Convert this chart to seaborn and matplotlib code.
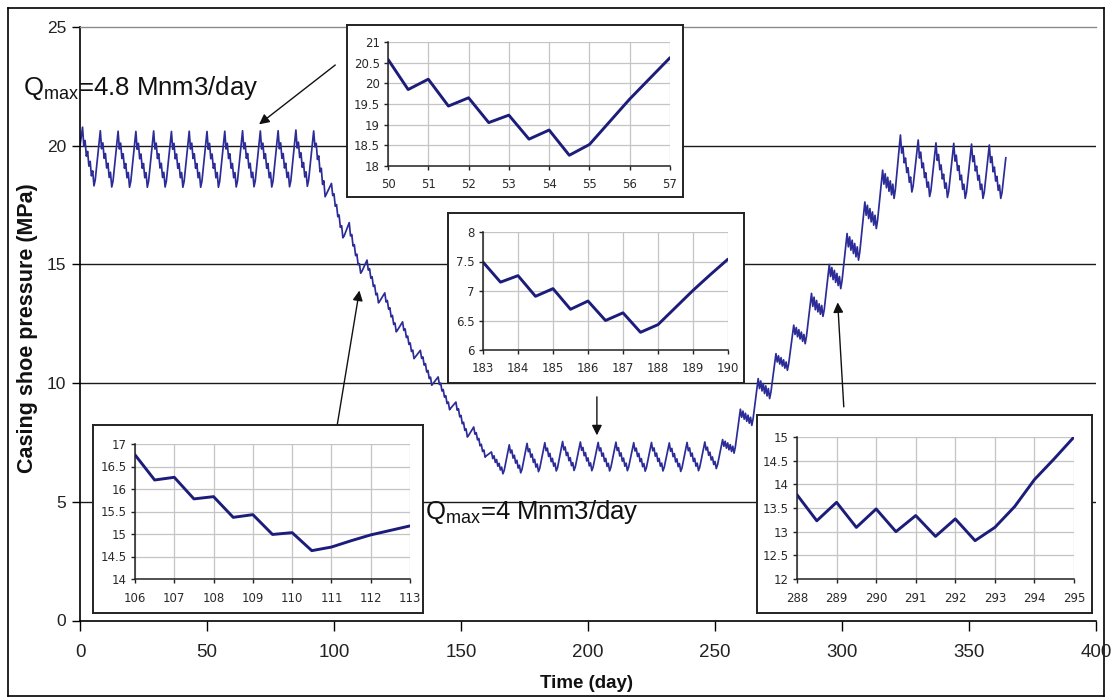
import matplotlib
matplotlib.use("Agg")
import matplotlib.pyplot as plt
import numpy as np
import pandas as pd
import seaborn as sns

# ---------------------------------------------------------------------------
# Casing shoe pressure over one year of storage operation.
# Each weekly row gives the pressure (MPa) at half-day steps from the start of
# the week (offsets 0 ... 5 days); the weekend injection then runs up to the
# first value of the following week.
# ---------------------------------------------------------------------------
cycle_offsets = [0.0, 0.5, 1.0, 1.5, 2.0, 2.5, 3.0, 3.5, 4.0, 4.5, 5.0]

start_day = 0.0
start_pressure = 20.0

high_plateau_weeks = [1, 8, 15, 22, 29, 36, 43, 50, 57, 64, 71, 78, 85]
high_plateau = [
    [20.78, 19.98, 20.22, 19.56, 19.76, 19.14, 19.34, 18.73, 18.94, 18.31, 18.56],
    [20.63, 19.87, 20.12, 19.47, 19.67, 19.06, 19.26, 18.66, 18.88, 18.26, 18.51],
    [20.61, 19.86, 20.11, 19.46, 19.66, 19.05, 19.25, 18.65, 18.87, 18.25, 18.50],
    [20.60, 19.85, 20.10, 19.45, 19.65, 19.05, 19.25, 18.65, 18.87, 18.25, 18.50],
    [20.62, 19.86, 20.11, 19.46, 19.66, 19.06, 19.26, 18.66, 18.88, 18.26, 18.51],
    [20.60, 19.85, 20.10, 19.45, 19.65, 19.05, 19.25, 18.65, 18.87, 18.25, 18.50],
    [20.61, 19.86, 20.11, 19.46, 19.66, 19.05, 19.25, 18.65, 18.87, 18.25, 18.50],
    [20.60, 19.85, 20.10, 19.45, 19.65, 19.05, 19.25, 18.65, 18.87, 18.25, 18.50],
    [20.61, 19.86, 20.10, 19.46, 19.66, 19.05, 19.25, 18.65, 18.87, 18.26, 18.51],
    [20.63, 19.87, 20.12, 19.47, 19.67, 19.06, 19.26, 18.66, 18.88, 18.27, 18.52],
    [20.62, 19.86, 20.11, 19.46, 19.66, 19.05, 19.25, 18.65, 18.87, 18.26, 18.51],
    [20.63, 19.87, 20.12, 19.47, 19.67, 19.06, 19.26, 18.66, 18.88, 18.27, 18.52],
    [20.66, 19.90, 20.15, 19.50, 19.70, 19.09, 19.29, 18.68, 18.90, 18.29, 18.54],
]

drawdown_weeks = [92, 99, 106, 113, 120, 127, 134, 141, 148, 155, 162]
drawdown = [
    [20.62, 19.95, 20.10, 19.42, 19.57, 18.90, 19.05, 18.37, 18.52, 17.85, 17.96],
    [18.41, 17.90, 17.97, 17.45, 17.52, 17.01, 17.08, 16.56, 16.63, 16.12, 16.20],
    [16.76, 16.20, 16.26, 15.78, 15.83, 15.37, 15.43, 14.99, 15.03, 14.63, 14.71],
    [15.18, 14.76, 14.82, 14.42, 14.48, 14.07, 14.13, 13.72, 13.78, 13.38, 13.45],
    [13.80, 13.42, 13.48, 13.11, 13.17, 12.79, 12.85, 12.47, 12.53, 12.16, 12.23],
    [12.58, 12.22, 12.28, 11.92, 11.98, 11.63, 11.69, 11.33, 11.39, 11.03, 11.10],
    [11.38, 11.04, 11.10, 10.76, 10.82, 10.47, 10.53, 10.19, 10.25, 9.91, 9.98],
    [10.26, 9.94, 10.00, 9.67, 9.73, 9.41, 9.47, 9.14, 9.20, 8.88, 8.95],
    [9.20, 8.86, 8.92, 8.58, 8.64, 8.29, 8.35, 8.01, 8.07, 7.73, 7.80],
    [8.15, 7.85, 7.91, 7.61, 7.67, 7.36, 7.42, 7.12, 7.18, 6.88, 6.94],
    [7.10, 6.82, 6.94, 6.66, 6.78, 6.50, 6.62, 6.34, 6.46, 6.18, 6.32],
]

low_plateau_weeks = [169, 176, 183, 190, 197, 204, 211, 218, 225, 232, 239, 246]
low_plateau = [
    [7.40, 7.06, 7.18, 6.84, 6.96, 6.63, 6.75, 6.42, 6.54, 6.22, 6.36],
    [7.46, 7.11, 7.23, 6.88, 7.01, 6.66, 6.79, 6.46, 6.59, 6.27, 6.41],
    [7.49, 7.15, 7.26, 6.91, 7.04, 6.69, 6.83, 6.50, 6.63, 6.30, 6.43],
    [7.54, 7.19, 7.31, 6.95, 7.08, 6.73, 6.86, 6.52, 6.65, 6.32, 6.47],
    [7.52, 7.17, 7.29, 6.94, 7.07, 6.72, 6.85, 6.51, 6.64, 6.31, 6.46],
    [7.50, 7.15, 7.27, 6.92, 7.05, 6.70, 6.83, 6.49, 6.62, 6.30, 6.45],
    [7.51, 7.16, 7.28, 6.93, 7.06, 6.71, 6.84, 6.50, 6.63, 6.31, 6.46],
    [7.49, 7.14, 7.26, 6.91, 7.04, 6.69, 6.82, 6.48, 6.61, 6.29, 6.44],
    [7.50, 7.15, 7.27, 6.92, 7.05, 6.70, 6.83, 6.50, 6.63, 6.30, 6.45],
    [7.48, 7.13, 7.25, 6.90, 7.03, 6.68, 6.81, 6.48, 6.61, 6.28, 6.43],
    [7.50, 7.15, 7.27, 6.92, 7.05, 6.70, 6.83, 6.50, 6.63, 6.31, 6.46],
    [7.52, 7.18, 7.30, 6.96, 7.09, 6.76, 6.89, 6.57, 6.70, 6.40, 6.56],
]

buildup_weeks = [253, 260, 267, 274, 281, 288, 295, 302, 309, 316]
buildup = [
    [7.62, 7.34, 7.55, 7.26, 7.48, 7.19, 7.41, 7.12, 7.34, 7.05, 7.31],
    [8.90, 8.56, 8.82, 8.48, 8.73, 8.39, 8.65, 8.31, 8.56, 8.22, 8.50],
    [10.19, 9.77, 10.09, 9.67, 9.98, 9.56, 9.88, 9.46, 9.77, 9.35, 9.61],
    [11.24, 10.89, 11.15, 10.80, 11.07, 10.72, 10.98, 10.63, 10.89, 10.54, 10.81],
    [12.44, 12.05, 12.34, 11.95, 12.25, 11.86, 12.15, 11.76, 12.05, 11.66, 11.96],
    [13.78, 13.23, 13.62, 13.09, 13.48, 13.00, 13.34, 12.90, 13.27, 12.81, 13.09],
    [15.00, 14.49, 14.87, 14.36, 14.75, 14.24, 14.62, 14.11, 14.49, 13.98, 14.30],
    [16.30, 15.74, 16.16, 15.60, 16.02, 15.46, 15.88, 15.32, 15.74, 15.18, 15.52],
    [17.63, 17.07, 17.49, 16.93, 17.35, 16.79, 17.21, 16.65, 17.07, 16.51, 16.85],
    [18.97, 18.38, 18.82, 18.23, 18.67, 18.08, 18.52, 17.93, 18.38, 17.78, 18.15],
]

final_plateau_weeks = [323, 330, 337, 344, 351, 358]
final_plateau = [
    [20.45, 19.69, 19.94, 19.28, 19.48, 18.87, 19.07, 18.46, 18.68, 18.05, 18.30],
    [20.24, 19.48, 19.73, 19.07, 19.27, 18.66, 18.86, 18.25, 18.47, 17.86, 18.11],
    [20.12, 19.38, 19.63, 18.99, 19.19, 18.60, 18.80, 18.21, 18.43, 17.82, 18.07],
    [20.10, 19.35, 19.60, 18.96, 19.16, 18.56, 18.76, 18.16, 18.38, 17.78, 18.03],
    [20.07, 19.33, 19.58, 18.94, 19.14, 18.55, 18.75, 18.16, 18.38, 17.78, 18.03],
    [20.03, 19.29, 19.54, 18.90, 19.10, 18.51, 18.71, 18.12, 18.34, 17.78, 18.03],
]

end_day = 364.5
end_pressure = 19.5

# Detail windows (half-day resolution)
detail_a_days = [50, 50.5, 51, 51.5, 52, 52.5, 53, 53.5, 54, 54.5, 55, 55.5, 56, 56.5, 57]
detail_a_pressure = [20.58, 19.85, 20.10, 19.45, 19.65, 19.05, 19.23, 18.65, 18.87,
                     18.26, 18.52, 19.07, 19.62, 20.12, 20.62]

detail_b_days = [183, 183.5, 184, 184.5, 185, 185.5, 186, 186.5, 187, 187.5, 188,
                 188.5, 189, 189.5, 190]
detail_b_pressure = [7.49, 7.15, 7.26, 6.91, 7.04, 6.69, 6.83, 6.50, 6.63, 6.30, 6.43,
                     6.72, 7.01, 7.28, 7.54]

detail_c_days = [106, 106.5, 107, 107.5, 108, 108.5, 109, 109.5, 110, 110.5, 111,
                 111.5, 112, 112.5, 113]
detail_c_pressure = [16.76, 16.20, 16.26, 15.78, 15.83, 15.37, 15.43, 14.99, 15.03,
                     14.63, 14.71, 14.85, 14.98, 15.08, 15.18]

detail_d_days = [288, 288.5, 289, 289.5, 290, 290.5, 291, 291.5, 292, 292.5, 293,
                 293.5, 294, 294.5, 295]
detail_d_pressure = [13.78, 13.23, 13.62, 13.09, 13.48, 13.00, 13.34, 12.90, 13.27,
                     12.81, 13.09, 13.53, 14.10, 14.54, 15.00]

main_xticks = [0, 50, 100, 150, 200, 250, 300, 350, 400]
main_yticks = [0, 5, 10, 15, 20, 25]

# ---------------------------------------------------------------------------
sns.set_theme(style="white")
plt.rcParams["font.family"] = ["Liberation Sans", "DejaVu Sans"]
plt.rcParams["mathtext.fontset"] = "custom"
plt.rcParams["mathtext.rm"] = "Liberation Sans"
plt.rcParams["mathtext.it"] = "Liberation Sans"


def weekly_frame(weeks, rows):
    days, values = [], []
    for w, row in zip(weeks, rows):
        for off, v in zip(cycle_offsets, row):
            days.append(w + off)
            values.append(v)
    return days, values


all_days = [start_day]
all_values = [start_pressure]
for weeks, rows in [(high_plateau_weeks, high_plateau), (drawdown_weeks, drawdown),
                    (low_plateau_weeks, low_plateau), (buildup_weeks, buildup),
                    (final_plateau_weeks, final_plateau)]:
    d, v = weekly_frame(weeks, rows)
    all_days += d
    all_values += v
all_days.append(end_day)
all_values.append(end_pressure)
series = pd.DataFrame({"day": all_days, "pressure": all_values})

W, H = 1111, 700
fig = plt.figure(figsize=(W / 100, H / 100), dpi=100)
fig.patch.set_facecolor("white")


def frac_rect(x0, y0, x1, y1):
    return [x0 / W, 1 - y1 / H, (x1 - x0) / W, (y1 - y0) / H]


# outer frame around the whole figure
frame = fig.add_axes(frac_rect(8, 8, 1104, 696))
frame.set_xticks([])
frame.set_yticks([])
frame.patch.set_alpha(0)
for s in frame.spines.values():
    s.set_color("black")
    s.set_linewidth(1.2)
frame.set_zorder(0)

ax = fig.add_axes(frac_rect(80, 27, 1096, 620.5))
ax.set_zorder(1)
ax.patch.set_alpha(0)
sns.lineplot(data=series, x="day", y="pressure", ax=ax, color="#2c2c98",
             linewidth=1.25, estimator=None, sort=False)
ax.set_xlim(0, 400)
ax.set_ylim(0, 25)
ax.set_xticks(main_xticks)
ax.set_yticks(main_yticks)
for yv in main_yticks[1:-1]:
    ax.axhline(yv, color="#1a1a1a", linewidth=1.0, zorder=0.5)
ax.set_xlabel("")
ax.set_ylabel("")
for side in ["left", "bottom"]:
    ax.spines[side].set_color("black")
    ax.spines[side].set_linewidth(1.2)
ax.spines["top"].set_color("#8a8a8a")
ax.spines["top"].set_linewidth(1.0)
ax.spines["right"].set_visible(False)
ax.tick_params(axis="y", direction="out", length=6, width=1, color="black",
               labelsize=12.5, labelcolor="#222222", pad=4, left=True)
ax.tick_params(axis="x", direction="out", length=7, width=1, color="black",
               labelsize=13.5, labelcolor="#222222", pad=10, bottom=True)

fig.text(28 / W, 1 - 328 / H, "Casing shoe pressure (MPa)", rotation=90,
         ha="center", va="center", fontsize=15.5, fontweight="bold", color="#111111")
fig.text(586 / W, 1 - 683 / H, "Time (day)", ha="center", va="center",
         fontsize=13.5, fontweight="bold", color="#111111")

fig.text(23 / W, 1 - 95 / H, r"Q$_{\mathrm{max}}$=4.8 Mnm3/day", ha="left",
         va="baseline", fontsize=18.5, color="#111111")
fig.text(425 / W, 1 - 519 / H, r"Q$_{\mathrm{max}}$=4 Mnm3/day", ha="left",
         va="baseline", fontsize=18.5, color="#111111", zorder=5)

# arrows pointing from the detail windows to the matching parts of the curve
arrow_kw = dict(arrowstyle="-|>", color="#111111", lw=1.0, mutation_scale=15,
                shrinkA=0, shrinkB=0)
for tail, head in [((100.5, 23.4), (70.5, 20.9)),
                   ((100.5, 7.74), (110.0, 13.9)),
                   ((203.5, 9.42), (203.5, 7.8)),
                   ((300.7, 9.0), (298.3, 13.4))]:
    ax.annotate("", xy=head, xytext=tail, xycoords="data", textcoords="data",
                arrowprops=arrow_kw, annotation_clip=False)


def detail_window(box, plot, days, pressure, xlim, ylim, ystep):
    bx = fig.add_axes(frac_rect(*box))
    bx.set_zorder(3)
    bx.set_facecolor("white")
    bx.set_xticks([])
    bx.set_yticks([])
    for s in bx.spines.values():
        s.set_color("#222222")
        s.set_linewidth(1.4)
    ix = fig.add_axes(frac_rect(*plot))
    ix.set_zorder(4)
    ix.set_facecolor("white")
    sns.lineplot(x=days, y=pressure, ax=ix, color="#1c1c7a", linewidth=2.1,
                 estimator=None, sort=False)
    ix.set_xlim(*xlim)
    ix.set_ylim(*ylim)
    xt = list(range(xlim[0], xlim[1] + 1))
    yt = list(np.arange(ylim[0], ylim[1] + 0.001, ystep))
    ix.set_xticks(xt)
    ix.set_yticks(yt)
    ix.set_yticklabels([f"{v:g}" for v in yt])
    ix.grid(True, color="#c4c4c4", linewidth=0.9)
    ix.set_axisbelow(True)
    for side in ["top", "right"]:
        ix.spines[side].set_visible(False)
    for side in ["left", "bottom"]:
        ix.spines[side].set_color("#222222")
        ix.spines[side].set_linewidth(1.1)
    ix.tick_params(axis="both", direction="out", length=3, width=1, color="#222222",
                   labelsize=8.5, labelcolor="#2a2a2a", left=True, bottom=True)
    ix.tick_params(axis="x", pad=6)
    ix.tick_params(axis="y", pad=3)
    for lab in ix.get_xticklabels() + ix.get_yticklabels():
        lab.set_fontfamily("DejaVu Sans")
    ix.set_xlabel("")
    ix.set_ylabel("")


detail_window((347, 25, 683, 197), (388, 42, 670, 166), detail_a_days,
              detail_a_pressure, (50, 57), (18, 21), 0.5)
detail_window((448, 213, 744, 383), (483, 232, 728, 350), detail_b_days,
              detail_b_pressure, (183, 190), (6, 8), 0.5)
detail_window((93, 425, 423, 613), (135, 444, 410, 579), detail_c_days,
              detail_c_pressure, (106, 113), (14, 17), 0.5)
detail_window((757, 415, 1092, 613), (797, 437, 1074, 579), detail_d_days,
              detail_d_pressure, (288, 295), (12, 15), 0.5)

fig.savefig("out.png", dpi=100, facecolor="white")
